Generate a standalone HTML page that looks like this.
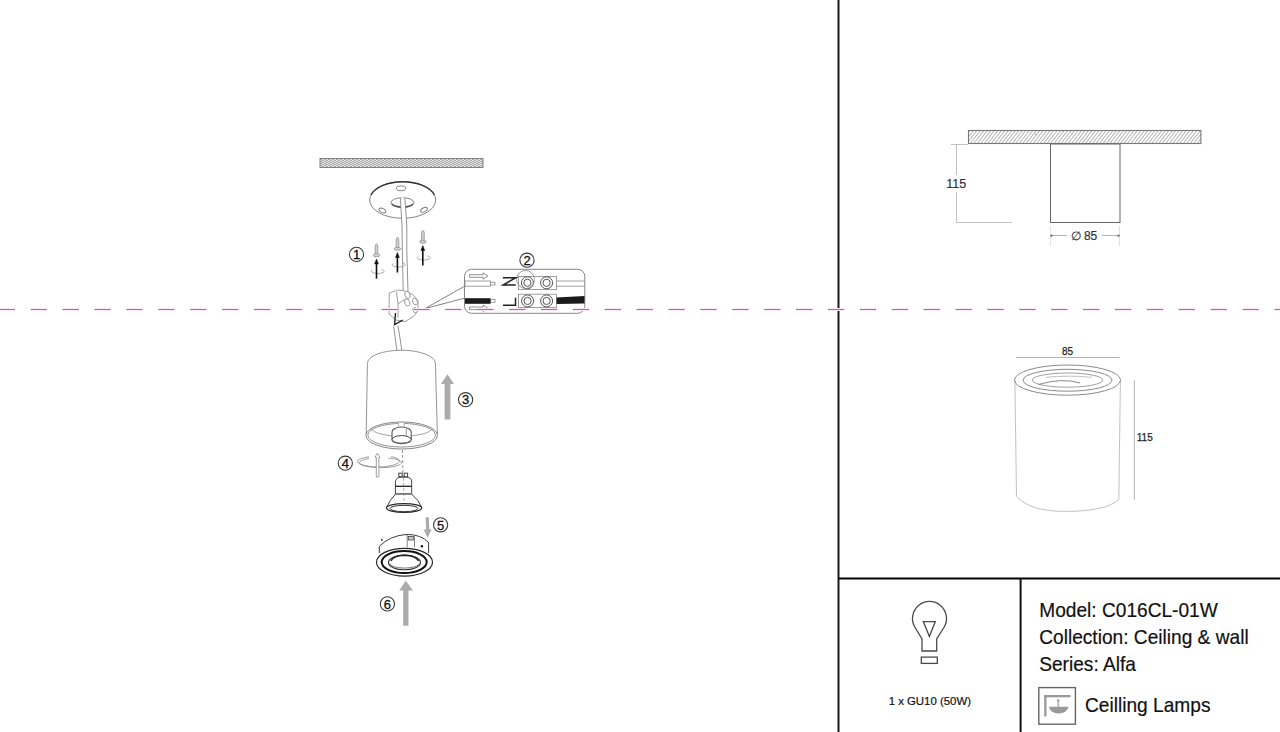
<!DOCTYPE html>
<html><head><meta charset="utf-8">
<style>
html,body{margin:0;padding:0;background:#fff;width:1280px;height:732px;overflow:hidden}
svg{display:block;font-family:"Liberation Sans",sans-serif}
</style></head>
<body>
<svg width="1280" height="732" viewBox="0 0 1280 732">
<defs>
<pattern id="hatch" patternUnits="userSpaceOnUse" width="2.75" height="2.75" patternTransform="rotate(38)">
<rect width="2.75" height="2.75" fill="#fff"/>
<line x1="0" y1="0" x2="0" y2="2.75" stroke="#858585" stroke-width="1.2"/>
</pattern>
<pattern id="hatch2" patternUnits="userSpaceOnUse" width="4" height="2">
<rect width="4" height="2" fill="#fff"/>
<path d="M-4 4 L4 0 M0 2 L4 0 M0 4 L8 0 M-4 2 L4 -2" stroke="#959595" stroke-width="0.75"/>
</pattern>
</defs>

<!-- table lines -->
<g stroke="#000" stroke-width="2" fill="none">
<line x1="838.5" y1="0" x2="838.5" y2="732" stroke="#1a1a1a"/>
<line x1="838.5" y1="578.5" x2="1280" y2="578.5"/>
<line x1="1020.6" y1="578.5" x2="1020.6" y2="732" stroke="#111"/>
</g>




<!-- ============ LEFT: installation diagram ============ -->
<!-- ceiling hatch -->
<rect x="320" y="158.5" width="163" height="9" fill="url(#hatch2)" stroke="#777" stroke-width="0.9"/>

<!-- mounting plate -->
<g fill="none" stroke="#777" stroke-width="0.9">
<ellipse cx="402.7" cy="200" rx="33" ry="18.3" fill="#fff"/>
<path d="M371 194.9 A33 18.3 0 0 1 434.4 194.9" stroke="#333" stroke-width="1.4"/>
<ellipse cx="402.5" cy="202.7" rx="11.5" ry="5"/>
<path d="M392 204 A11.5 5 0 0 0 413 204" stroke="#555" stroke-width="1.3"/>
<ellipse cx="401" cy="188.3" rx="4.7" ry="2.4"/>
<ellipse cx="382.4" cy="210.5" rx="3.6" ry="2" transform="rotate(25 382.4 210.5)"/>
<ellipse cx="424" cy="209.8" rx="3.6" ry="2" transform="rotate(-25 424 209.8)"/>
</g>
<!-- cable -->
<g fill="none" stroke="#888" stroke-width="0.9">
<path d="M400.3 197.5 L402 225 L402.3 250 L403.2 292 L408 292 L406.8 250 L406.8 225 L404.8 197.5 Z" fill="#fff" stroke="none"/>
<path d="M400.3 197.5 L402 225 L402.3 250 L403.2 292"/>
<path d="M404.8 197.5 L406.8 225 L406.8 250 L408 292"/>
<path d="M393.6 326.4 L395.5 340 L396.9 350.5"/>
<path d="M398 326 L400.3 340 L401.8 350.5"/>
</g>

<!-- screws -->
<g id="screws">
<g fill="#d4d4d4" stroke="#999" stroke-width="0.9">
<path d="M375.2 254.5 L375.2 246 Q376.5 241.5 377.8 246 L377.8 254.5 Z"/>
<ellipse cx="376.5" cy="255.3" rx="3.3" ry="1.5"/>
<path d="M396.2 248 L396.2 239.5 Q397.5 235 398.8 239.5 L398.8 248 Z"/>
<ellipse cx="397.5" cy="248.8" rx="3.3" ry="1.5"/>
<path d="M421.6 241 L421.6 232.5 Q422.9 228 424.2 232.5 L424.2 241 Z"/>
<ellipse cx="422.9" cy="241.7" rx="3.3" ry="1.5"/>
</g>
<g fill="none" stroke="#999" stroke-width="0.8">
<path d="M372.5 270 A6.5 2.2 0 1 0 381.5 269.5"/>
<path d="M393.5 263.5 A6.5 2.2 0 1 0 402.5 263"/>
<path d="M418.5 256.5 A6.5 2.2 0 1 0 427.5 256"/>
</g>
<g stroke="#111" stroke-width="1.6" fill="#111">
<line x1="376.5" y1="262" x2="376.5" y2="278.6"/>
<path d="M374.6 264 L376.5 259 L378.4 264 Z" stroke-width="0.5"/>
<line x1="397.4" y1="255.5" x2="397.4" y2="272.5"/>
<path d="M395.5 257.5 L397.4 252.5 L399.3 257.5 Z" stroke-width="0.5"/>
<line x1="422.8" y1="248.5" x2="422.8" y2="265.5"/>
<path d="M420.9 250.5 L422.8 245.5 L424.7 250.5 Z" stroke-width="0.5"/>
</g>
</g>

<!-- connector -->
<g fill="#fff" stroke="#888" stroke-width="0.8">
<path d="M389.3 293 L398.4 290 L405 291 L412 294 L418 300.5 L418 311 L413 317 L405 321.6 L396 320 L389 314 Z"/>
<ellipse cx="407.5" cy="294.9" rx="2.5" ry="3.8" transform="rotate(-20 407.5 294.9)"/>
<ellipse cx="407.3" cy="302.5" rx="2.5" ry="3.8" transform="rotate(-20 407.3 302.5)"/>
<ellipse cx="415" cy="301.5" rx="2.3" ry="3.5" transform="rotate(-20 415 301.5)"/>
<ellipse cx="415" cy="310.2" rx="2" ry="2.8" transform="rotate(-20 415 310.2)"/>
<path d="M396.5 292 L398 304 L398 318 M398 304 L405 299"/>
</g>
<g stroke="#222" stroke-width="1.4" fill="none">
<path d="M395.5 313 L394.6 324.5 L402.7 320.2"/>
</g>
<!-- leader lines -->
<g stroke="#666" stroke-width="0.8" fill="none">
<line x1="424.7" y1="308.7" x2="464.4" y2="286.3"/>
<line x1="424.7" y1="308.7" x2="464.4" y2="298.2"/>
</g>

<!-- detail box -->
<rect x="464.5" y="269.3" width="120.3" height="44" rx="7" ry="7" fill="none" stroke="#777" stroke-width="0.9"/>
<g fill="#fff" stroke="#888" stroke-width="0.8">
<rect x="465" y="281" width="25.5" height="5.2"/>
<rect x="490.5" y="282.2" width="4.5" height="2.8"/>
<rect x="490.5" y="299.5" width="4.5" height="2.8"/>
<rect x="518.4" y="276.4" width="38" height="13.2"/>
<rect x="518.4" y="294.2" width="38" height="13.2"/>
<line x1="556.5" y1="281" x2="584.5" y2="281"/>
<line x1="556.5" y1="286.2" x2="584.5" y2="286.2"/>
<g stroke="#4a4a4a" stroke-width="0.95">
<circle cx="527.4" cy="282.8" r="6"/><circle cx="527.4" cy="282.8" r="3.6"/>
<circle cx="546.6" cy="282.8" r="6"/><circle cx="546.6" cy="282.8" r="3.6"/>
<circle cx="527.6" cy="300.9" r="6"/><circle cx="527.6" cy="300.9" r="3.6"/>
<circle cx="546.6" cy="300.9" r="6"/><circle cx="546.6" cy="300.9" r="3.6"/>
</g>
</g>
<circle cx="525.5" cy="279.5" r="9" fill="none" stroke="#888" stroke-width="0.8"/>
<rect x="465" y="298.2" width="25.5" height="5.6" fill="#1a1a1a"/>
<path d="M556.5 297.5 L584.5 296 L584.5 303.5 L556.5 304 Z" fill="#1a1a1a"/>
<g fill="none" stroke="#777" stroke-width="0.8">
<path d="M469.5 274.7 L483 274.7 L483 272.8 L488 276 L483 279.2 L483 277.3 L469.5 277.3 Z"/>
<path d="M469.5 307 L483 307 L483 305.1 L488 308.3 L483 311.5 L483 309.6 L469.5 309.6 Z"/>
</g>
<g stroke="#222" stroke-width="1.5" fill="none">
<path d="M502.8 277.7 L515.8 277.7 L503 285.1 L515.8 285.1"/>
<path d="M515.5 297.8 L515.5 305.3 L503 305.3"/>
</g>

<!-- cylinder body -->
<g fill="none" stroke="#888" stroke-width="0.9">
<path d="M367.4 363.4 A34 13.2 0 0 1 435.4 363.4 L437.4 434 M367.4 363.4 L366.2 434"/>
<ellipse cx="401.7" cy="435.5" rx="35.7" ry="13.5" stroke="#777"/>
<ellipse cx="401.7" cy="435.2" rx="33.8" ry="11.8" stroke="#888"/>
<path d="M371 428.5 A31 9 0 0 0 432.5 428.5" stroke="#999"/>
<rect x="398.6" y="422.2" width="5.6" height="5.5" fill="#fff" stroke="#aaa"/>
<path d="M392 440 L392 432 A9.6 5 0 0 1 411.2 432 L411.2 440 A9.6 3.6 0 0 1 392 440 Z" fill="#fff" stroke="#555" stroke-width="1.1"/>
<path d="M392 439.5 A9.6 3.9 0 0 1 411.2 439.5" stroke="#444" stroke-width="1"/>
<path d="M393.5 440.5 A8 2.6 0 0 0 409.7 440.5" stroke="#666" stroke-width="0.9"/>
<line x1="406.3" y1="428.5" x2="406.3" y2="436.5" stroke="#888"/>
</g>

<!-- rotate icon 4 -->
<g fill="none" stroke="#888" stroke-width="0.8">
<path d="M369 458.5 A21 5 0 1 0 388 458" />
<path d="M369 456.8 A22.5 6.2 0 0 0 357 461.5 A21.5 6.5 0 0 0 399.5 461.5 A22 6 0 0 0 391 456.5"/>
<path d="M376.3 477 L376.3 457.2 L374.9 457.2 L377.4 453.2 L379.9 457.2 L378.9 457.2 L378.9 477 Z" fill="#fff"/>
</g>
<line x1="402.5" y1="450" x2="403.5" y2="503" stroke="#777" stroke-width="0.8" stroke-dasharray="3 2"/>

<!-- bulb -->
<g fill="#fff" stroke="#444" stroke-width="1">
<rect x="398.8" y="473.2" width="3.4" height="3.5"/>
<rect x="404.2" y="473.2" width="3.4" height="3.5"/>
<path d="M395.4 493.8 L395.4 482 Q396 477.2 401 477.2 L406.5 477.2 Q411.7 477.2 411.7 482 L411.7 493.8"/>
<line x1="395.4" y1="486.3" x2="411.7" y2="486.3" stroke="#222" stroke-width="1.3"/>
<path d="M395.6 494 Q389.5 500 386.5 507.8 L421.8 507.8 Q419 500 411.5 494 Z" stroke="#3a3a3a"/>
<line x1="395.4" y1="493.8" x2="411.7" y2="493.8" stroke="#666"/>
<ellipse cx="404.1" cy="508" rx="17.6" ry="4.4" stroke="#2a2a2a" stroke-width="1.2"/>
<ellipse cx="404" cy="508.5" rx="14" ry="3.2" stroke="#333" stroke-width="1"/>
</g>
<line x1="403.5" y1="478" x2="404" y2="503" stroke="#888" stroke-width="0.7" stroke-dasharray="3 2"/>

<!-- trim ring -->
<g fill="#fff" stroke="#3a3a3a" stroke-width="1">
<path d="M379.3 553 L379.3 546.3 Q390 535.5 407 534.4 Q421 534.5 428.6 542.5 L428.6 553"/>
<path d="M407.2 535 L407.2 547.5 M414.5 535.5 L414.5 547" stroke="#777" stroke-width="0.9"/>
<rect x="408.3" y="536.5" width="5" height="3.5" fill="#ccc" stroke="#444" stroke-width="0.8"/>
<ellipse cx="404.5" cy="562.2" rx="28" ry="13.9" stroke="#2a2a2a" stroke-width="1.2"/>
<ellipse cx="404.2" cy="562.1" rx="22.5" ry="11" stroke="#111" stroke-width="2"/>
<ellipse cx="404.5" cy="562.4" rx="16" ry="7.4" stroke="#333" stroke-width="1.1"/>
<path d="M391 561 Q393 555.5 404.5 555.2 Q416 555.5 418.6 561" fill="none" stroke="#222" stroke-width="1.4"/>
<path d="M389.6 563.5 A15 5 0 0 0 419.5 563.5" fill="none" stroke="#555" stroke-width="0.8"/>
</g>
<circle cx="421.9" cy="546.3" r="1.2" fill="#111"/>
<rect x="381.3" y="538.6" width="1.2" height="2.5" fill="#333"/>

<!-- gray arrows -->
<g fill="#ababab">
<path d="M444.6 419.5 L444.6 384 L441 384 L447.5 374.3 L454 384 L450.4 384 L450.4 419.5 Z"/>
<path d="M425.6 517.2 L428.8 517.2 L429.3 529.3 L431.6 529.3 L427.8 537.7 L423.6 529.6 L426.1 529.5 Z"/>
<path d="M403.2 625.8 L403.2 590.6 L399.1 590.6 L405.8 580.7 L413 590.6 L408.5 590.6 L408.5 625.8 Z"/>
</g>

<!-- circled numbers -->
<g fill="#fff" stroke="#3a3a3a" stroke-width="1.1">
<circle cx="356.5" cy="254.4" r="7.1"/>
<circle cx="527" cy="260.2" r="7.1"/>
<circle cx="465.6" cy="399.7" r="7.1"/>
<circle cx="345.3" cy="463.2" r="7.1"/>
<circle cx="440.6" cy="524.8" r="7.1"/>
<circle cx="387.4" cy="603.9" r="7.1"/>
</g>
<g fill="#111" stroke="#111" stroke-width="0.3" font-size="13" text-anchor="middle">
<text x="356.5" y="259.1">1</text>
<text x="527" y="264.9">2</text>
<text x="465.6" y="404.4">3</text>
<text x="345.3" y="467.9">4</text>
<text x="440.6" y="529.5">5</text>
<text x="387.4" y="608.6">6</text>
</g>

<!-- ============ RIGHT TOP: side elevation ============ -->
<rect x="968.5" y="130.5" width="232.4" height="13" fill="url(#hatch)" stroke="#777" stroke-width="1.1"/>
<rect x="1050.5" y="144" width="69.5" height="78.5" fill="#fff" stroke="#666" stroke-width="1"/>
<g stroke="#bbb" stroke-width="0.9" fill="none">
<line x1="956.5" y1="144.5" x2="956.5" y2="222.5"/>
<line x1="951" y1="144.5" x2="968" y2="144.5"/>
<line x1="956" y1="222.5" x2="1012" y2="222.5"/>
</g>
<g stroke="#ddd" stroke-width="0.9" fill="none">
<line x1="1050.5" y1="226" x2="1050.5" y2="246"/>
<line x1="1119.5" y1="226" x2="1119.5" y2="246"/>
</g>
<g stroke="#aaa" stroke-width="0.9" fill="none">
<line x1="1051" y1="235.5" x2="1067" y2="235.5"/>
<line x1="1102" y1="235.5" x2="1119" y2="235.5"/>
</g>
<rect x="1050.5" y="234.6" width="2" height="2" fill="#666"/>
<rect x="1117.5" y="234.6" width="2" height="2" fill="#666"/>
<rect x="944" y="175" width="25" height="17" fill="#fff"/>
<text x="946.2" y="187.9" font-size="12.5" fill="#333" stroke="#333" stroke-width="0.2">115</text>
<text x="1070.6" y="240.3" font-size="12" fill="#333" stroke="#333" stroke-width="0.2">∅ 85</text>

<!-- ============ RIGHT MIDDLE: 3D cylinder ============ -->
<text x="1067.5" y="355.3" font-size="10" fill="#222" stroke="#222" stroke-width="0.25" text-anchor="middle">85</text>
<line x1="1016" y1="357.5" x2="1119.5" y2="357.5" stroke="#b5b5b5" stroke-width="1"/>
<line x1="1134.3" y1="380" x2="1134.3" y2="500" stroke="#b5b5b5" stroke-width="1"/>
<text x="1136.8" y="440.8" font-size="10" fill="#222" stroke="#222" stroke-width="0.25">115</text>
<g fill="none" stroke-width="1">
<path d="M1014.9 380.5 L1016.5 496.3 Q1030 512 1068.5 511.4 Q1106 511 1118.8 499.5 L1120.4 380.5" stroke="#c2c2c2"/>
<ellipse cx="1067.5" cy="380.1" rx="53" ry="15.1" stroke="#8a8a8a"/>
<ellipse cx="1067.5" cy="380.25" rx="44.4" ry="10.95" stroke="#8a8a8a"/>
<ellipse cx="1067.5" cy="380.1" rx="35.2" ry="7.1" stroke="#a0a0a0"/>
<path d="M1038.3 384.6 Q1062 377.5 1080 383" stroke="#888"/>
<path d="M1046 377.3 Q1067 375 1092 377.3" stroke="#c0c0c0"/>
</g>

<!-- ============ BOTTOM TABLE ============ -->
<g fill="none" stroke="#4a4a4a" stroke-width="1.3">
<path d="M922 651 L922 639 L914.8 627 A17 17 0 1 1 944.2 627 L936.7 639 L936.7 651 Z"/>
<path d="M923.3 621.6 L935.3 621.6 L929.4 636.5 Z"/>
<rect x="921.3" y="657.1" width="16" height="6.3"/>
</g>
<text x="929.8" y="705.2" font-size="11.4" fill="#111" stroke="#111" stroke-width="0.2" text-anchor="middle">1 x GU10 (50W)</text>
<g font-size="19.7" fill="#111" stroke="#111" stroke-width="0.2">
<g transform="translate(1039.2 0) scale(0.972 1)">
<text x="0" y="617">Model: C016CL-01W</text>
<text x="0" y="644.3">Collection: Ceiling &amp; wall</text>
<text x="0" y="671">Series: Alfa</text>
</g>
<g transform="translate(1085 0) scale(0.972 1)">
<text x="0" y="712.5">Ceilling Lamps</text>
</g>
</g>
<rect x="1038.8" y="687.6" width="36.6" height="36.6" fill="#fff" stroke="#666" stroke-width="1.4"/>
<g fill="#9a9a9a">
<rect x="1044.2" y="695" width="2.3" height="21.5"/>
<rect x="1044.2" y="695" width="26.3" height="2.3"/>
<path d="M1049 706.8 L1068.3 706.8 A9.65 6.8 0 0 1 1049 706.8 Z"/>
<rect x="1057.6" y="701" width="1.2" height="6"/>
<circle cx="1058.2" cy="700.5" r="1.3"/>
</g>

<!-- dashed center line -->
<line x1="-1.19" y1="309.5" x2="1290" y2="309.5" stroke="#fce6f7" stroke-width="3" stroke-dasharray="16.3 15.59"/>
<line x1="-1.19" y1="309.5" x2="1290" y2="309.5" stroke="#b66a98" stroke-width="1" stroke-dasharray="16.3 15.59"/>
</svg>
</body></html>
